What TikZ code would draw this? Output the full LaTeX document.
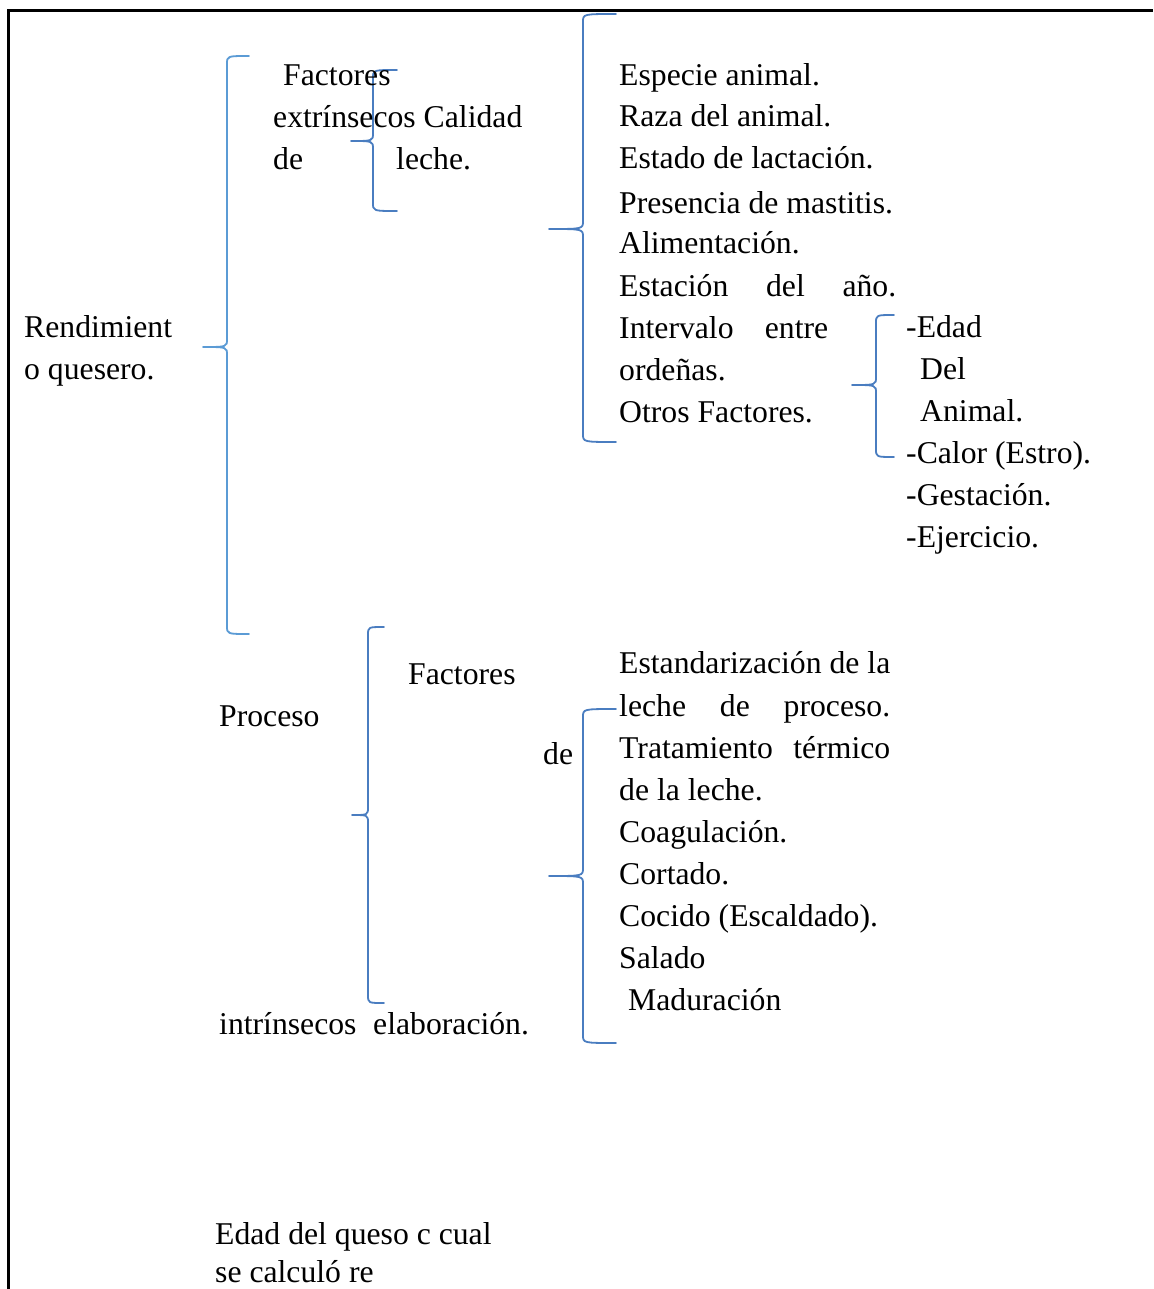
\documentclass[tikz,border=0pt]{standalone}
\usepackage{fontspec}
\setmainfont{Liberation Serif}
\definecolor{braceblue}{HTML}{4A7DC0}
\definecolor{bracelight}{HTML}{5B9BD5}
% curly brace opening to the right:
% #2 end x, #3 spine x, #4 tip x, #5 top y, #6 tip y, #7 bottom y
\newcommand\qbrace[7][]{%
  \draw[bracestyle,#1] (#2,#5) .. controls (#3,#5) .. (#3,#5+8)
    -- (#3,#6-8) .. controls (#3,#6) .. (#4,#6)
    .. controls (#3,#6) .. (#3,#6+8)
    -- (#3,#7-8) .. controls (#3,#7) .. (#2,#7);}
\begin{document}
\begin{tikzpicture}[x=1pt,y=-1pt,
  txt/.style={anchor=base west,inner sep=0pt,font=\fontsize{31.7}{38}\selectfont},
  bracestyle/.style={draw=braceblue,line width=1.8pt,line cap=round,line join=round}]
\useasboundingbox (0,0) rectangle (1153,1289);
% frame
\draw[line width=3pt] (8,1289) -- (8,11) -- (1153,11);

% braces
\qbrace[draw=bracelight]{249}{227}{203}{56}{347}{634}
\qbrace{397}{373}{351}{70}{141}{211}
\qbrace{616}{583}{549}{14}{229}{442}
\qbrace{894}{876}{852}{315}{385}{457}
\qbrace{384}{368}{352}{627}{815}{1003}
\qbrace{616}{583}{549}{709}{876}{1043}

% left root
\node[txt] (r1) at (24,337) {Rendimient};
\node[txt] (r2) at (24,379) {o quesero.};

% upper group
\node[txt] (f1) at (283,86) {Factores};
\node[txt] (f2) at (273,128) {extrínsecos Calidad};
\node[txt] (f3) at (273,170) {de};
\node[txt] (f4) at (396,170) {leche.};

\node[txt] (a1) at (619,86) {Especie animal.};
\node[txt] (a2) at (619,127) {Raza del animal.};
\node[txt] (a3) at (619,169) {Estado de lactación.};
\node[txt] (a4) at (619,214) {Presencia de mastitis.};
\node[txt] (a5) at (619,254) {Alimentación.};
\node[txt] (a6) at (619,296) {\makebox[277pt][s]{Estación del año.}};
\node[txt] (a7) at (619,338) {\makebox[209pt][s]{Intervalo entre}};
\node[txt] (a8) at (619,380) {ordeñas.};
\node[txt] (a9) at (619,422) {Otros Factores.};

\node[txt] (o1) at (906,337) {-Edad};
\node[txt] (o2) at (920,379) {Del};
\node[txt] (o3) at (920,421) {Animal.};
\node[txt] (o4) at (906,463) {-Calor (Estro).};
\node[txt] (o5) at (906,505) {-Gestación.};
\node[txt] (o6) at (906,547) {-Ejercicio.};

% lower group
\node[txt] (p1) at (408,684) {Factores};
\node[txt] (p2) at (219,726) {Proceso};
\node[txt] (p3) at (543,764) {de};
\node[txt] (p4) at (219,1034) {intrínsecos};
\node[txt] (p5) at (373,1034) {elaboración.};

\node[txt] (e1) at (619,673) {Estandarización de la};
\node[txt] (e2) at (619,716) {\makebox[271pt][s]{leche de proceso.}};
\node[txt] (e3) at (619,758) {\makebox[271pt][s]{Tratamiento térmico}};
\node[txt] (e4) at (619,800) {de la leche.};
\node[txt] (e5) at (619,842) {Coagulación.};
\node[txt] (e6) at (619,884) {Cortado.};
\node[txt] (e7) at (619,926) {Cocido (Escaldado).};
\node[txt] (e8) at (619,968) {Salado};
\node[txt] (e9) at (628,1010) {Maduración};

% footer text
\node[txt] (q1) at (215,1244) {Edad del queso c cual};
\node[txt] (q2) at (215,1282) {se calculó re};
\end{tikzpicture}
\end{document}
